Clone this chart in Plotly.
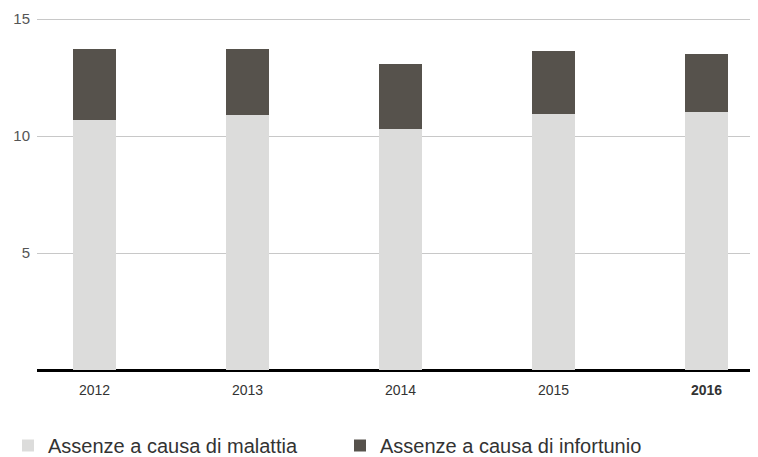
import plotly.graph_objects as go

# ----------------------------------
# DATA
# ----------------------------------

years = ["2012", "2013", "2014", "2015", "2016"]
year_labels = ["2012", "2013", "2014", "2015", "<b>2016</b>"]
malattia = [10.68, 10.90, 10.30, 10.94, 11.03]
infortunio = [3.04, 2.82, 2.78, 2.69, 2.47]

name_malattia = "Assenze a causa di malattia"
name_infortunio = "Assenze a causa di infortunio"

# ----------------------------------
# FIGURE
# ----------------------------------

fig = go.Figure()

fig.add_trace(go.Bar(
    x=years,
    y=malattia,
    name=name_malattia,
    marker=dict(color="#dcdcdb", line=dict(width=0)),
    width=0.28
))

fig.add_trace(go.Bar(
    x=years,
    y=infortunio,
    name=name_infortunio,
    marker=dict(color="#56524c", line=dict(width=0)),
    width=0.28
))

# page body adds 8px offset, margins compensate for it
fig.update_layout(
    barmode="stack",
    width=758,
    height=457,
    margin=dict(l=29, r=0, t=2, b=95, autoexpand=False),
    plot_bgcolor="white",
    paper_bgcolor="white",
    font=dict(family="Liberation Sans, Arial, sans-serif", color="#444444"),
    showlegend=True,
    legend=dict(
        orientation="h",
        xref="container",
        yref="container",
        x=-0.008,
        y=-0.017,
        xanchor="left",
        yanchor="bottom",
        font=dict(size=20, color="#333333"),
        entrywidth=287,
        entrywidthmode="pixels",
        traceorder="normal",
        itemclick=False,
    ),
)

fig.update_xaxes(
    type="category",
    range=[-0.376, 4.389],
    tickmode="array",
    tickvals=years,
    ticktext=year_labels,
    tickfont=dict(size=14, color="#333333"),
    ticklabelstandoff=10,
    showgrid=False,
    showline=False,
    zeroline=False,
    ticks="",
)

fig.update_yaxes(
    range=[0, 15.385],
    tickvals=[5, 10, 15],
    tickfont=dict(size=15, color="#555555"),
    ticklabelstandoff=6,
    showgrid=True,
    gridcolor="#c8c8c8",
    gridwidth=1,
    zeroline=True,
    zerolinecolor="#000000",
    zerolinewidth=3,
    showline=False,
    ticks="",
)

fig.write_html("out.html")
